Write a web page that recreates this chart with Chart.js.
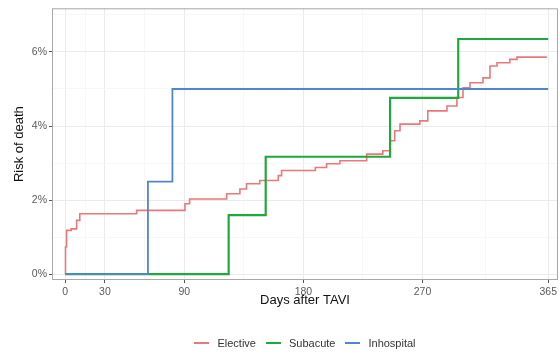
<!DOCTYPE html>
<html>
<head>
<meta charset="utf-8">
<script src="https://cdn.jsdelivr.net/npm/chart.js@4/dist/chart.umd.min.js"></script>
<style>
  html, body { margin: 0; padding: 0; background: #fff; }
  #wrap { position: relative; width: 560px; height: 356px; }
  #legend { position: absolute; left: 0; width: 610px; top: 337px; text-align: center;
            font-family: "Liberation Sans", Arial, sans-serif; font-size: 11px; color: #333; }
  #legend span.item { display: inline-block; margin: 0 5px; }
  #legend span.key { display: inline-block; width: 15px; height: 0; vertical-align: middle;
                     margin-right: 8px; border-top: 2px solid; position: relative; top: -1px; }
</style>
</head>
<body>
<div id="wrap">
  <canvas id="myChart" width="560" height="356"></canvas>
  <div id="legend"></div>
</div>
<script>
// datos (dias, riesgo %)
const electiveDays = [0, 0.2, 1, 4.5, 8.6, 11, 54, 90.5, 94, 122, 132, 137, 147, 161, 163.5, 189, 197.5, 207.6, 227.8, 240, 245.5, 249, 253, 268, 274, 288.5, 296, 300.6, 305.9, 315.7, 321, 326.3, 336, 341.4, 364];
const electiveRisk = [0, 0.73, 1.18, 1.22, 1.45, 1.63, 1.72, 1.9, 2.03, 2.17, 2.3, 2.44, 2.53, 2.66, 2.8, 2.88, 2.98, 3.06, 3.24, 3.33, 3.6, 3.87, 4.05, 4.14, 4.41, 4.54, 4.77, 5.03, 5.17, 5.3, 5.62, 5.71, 5.8, 5.86, 5.86];

const subacuteDays = [0, 123.5, 151.5, 245.5, 297, 365];
const subacuteRisk = [0, 1.59, 3.17, 4.76, 6.35, 6.35];

const inhospitalDays = [0, 62.5, 81, 365];
const inhospitalRisk = [0, 2.5, 5, 5];

const seriesNames = ['Elective', 'Subacute', 'Inhospital'];
const seriesColors = ['#e8787a', '#1fa83b', '#4f86d0'];

const xTicks = [0, 30, 90, 180, 270, 365];
const xMinor = [15, 60, 135, 225, 317.5];
const yTicks = [0, 2, 4, 6];
const yMinor = [1, 3, 5, 7];

function toPoints(xs, ys) {
    return xs.map((x, i) => ({ x: x, y: ys[i] }));
}

const fuente = '"Liberation Sans", Arial, sans-serif';

// Borde del panel estilo theme_bw
const panelBorder = {
    id: 'panelBorder',
    afterDatasetsDraw(chart) {
        const a = chart.chartArea;
        const ctx = chart.ctx;
        ctx.save();
        ctx.strokeStyle = '#a8a8a8';
        ctx.lineWidth = 1;
        ctx.strokeRect(a.left + 0.5, a.top + 0.5, a.right - a.left - 1, a.bottom - a.top - 1);
        ctx.restore();
    }
};

function isMajor(list, v) {
    return list.some(t => Math.abs(t - v) < 1e-6);
}

const datasets = [
    { label: seriesNames[0], data: toPoints(electiveDays, electiveRisk), borderColor: seriesColors[0], borderWidth: 1.6, order: 2 },
    { label: seriesNames[1], data: toPoints(subacuteDays, subacuteRisk), borderColor: seriesColors[1], borderWidth: 2.2, order: 1 },
    { label: seriesNames[2], data: toPoints(inhospitalDays, inhospitalRisk), borderColor: seriesColors[2], borderWidth: 1.8, order: 0 }
].map(d => Object.assign(d, { stepped: 'before', pointRadius: 0, fill: false, tension: 0 }));

var ctx = document.getElementById('myChart').getContext('2d');
var myChart = new Chart(ctx, {
    type: 'line',
    data: { datasets: datasets },
    plugins: [panelBorder],
    options: {
        responsive: false,
        animation: false,
        layout: { padding: { left: 0, right: 2, top: 7, bottom: 46 } },
        plugins: { legend: { display: false }, tooltip: { enabled: false } },
        scales: {
            x: {
                type: 'linear',
                min: -10,
                max: 372.4,
                afterBuildTicks: s => { s.ticks = xTicks.concat(xMinor).map(v => ({ value: v })); },
                afterFit: s => { s.height = 30; },
                border: { display: false },
                grid: {
                    color: c => isMajor(xTicks, c.tick.value) ? '#ebebeb' : '#f5f5f5',
                    lineWidth: c => isMajor(xTicks, c.tick.value) ? 1 : 0.8,
                    tickColor: c => isMajor(xTicks, c.tick.value) ? '#555' : 'rgba(0,0,0,0)',
                    tickLength: 3
                },
                ticks: {
                    autoSkip: false,
                    maxRotation: 0,
                    padding: 2.5,
                    color: '#5a5a5a',
                    font: { family: fuente, size: 10.5 },
                    callback: v => isMajor(xTicks, v) ? String(v) : ''
                },
                title: {
                    display: true,
                    text: 'Days after TAVI',
                    color: '#111',
                    font: { family: fuente, size: 13 },
                    padding: { top: 0, bottom: 2.2 }
                }
            },
            y: {
                type: 'linear',
                min: -0.16,
                max: 7.18,
                afterBuildTicks: s => { s.ticks = yTicks.concat(yMinor).map(v => ({ value: v })); },
                afterFit: s => { s.width = 52; },
                border: { display: false },
                grid: {
                    color: c => isMajor(yTicks, c.tick.value) ? '#ebebeb' : '#f5f5f5',
                    lineWidth: c => isMajor(yTicks, c.tick.value) ? 1 : 0.8,
                    tickColor: c => isMajor(yTicks, c.tick.value) ? '#555' : 'rgba(0,0,0,0)',
                    tickLength: 3
                },
                ticks: {
                    autoSkip: false,
                    padding: 2,
                    color: '#5a5a5a',
                    font: { family: fuente, size: 10.5 },
                    callback: v => isMajor(yTicks, v) ? v + '%' : ''
                },
                title: {
                    display: true,
                    text: 'Risk of death',
                    color: '#111',
                    font: { family: fuente, size: 13 },
                    padding: { top: 12, bottom: 0 }
                }
            }
        }
    }
});

// Leyenda en HTML debajo del grafico
const legendEl = document.getElementById('legend');
seriesNames.forEach((name, i) => {
    const item = document.createElement('span');
    item.className = 'item';
    const key = document.createElement('span');
    key.className = 'key';
    key.style.borderTopColor = seriesColors[i];
    item.appendChild(key);
    item.appendChild(document.createTextNode(name));
    legendEl.appendChild(item);
});
</script>
</body>
</html>
